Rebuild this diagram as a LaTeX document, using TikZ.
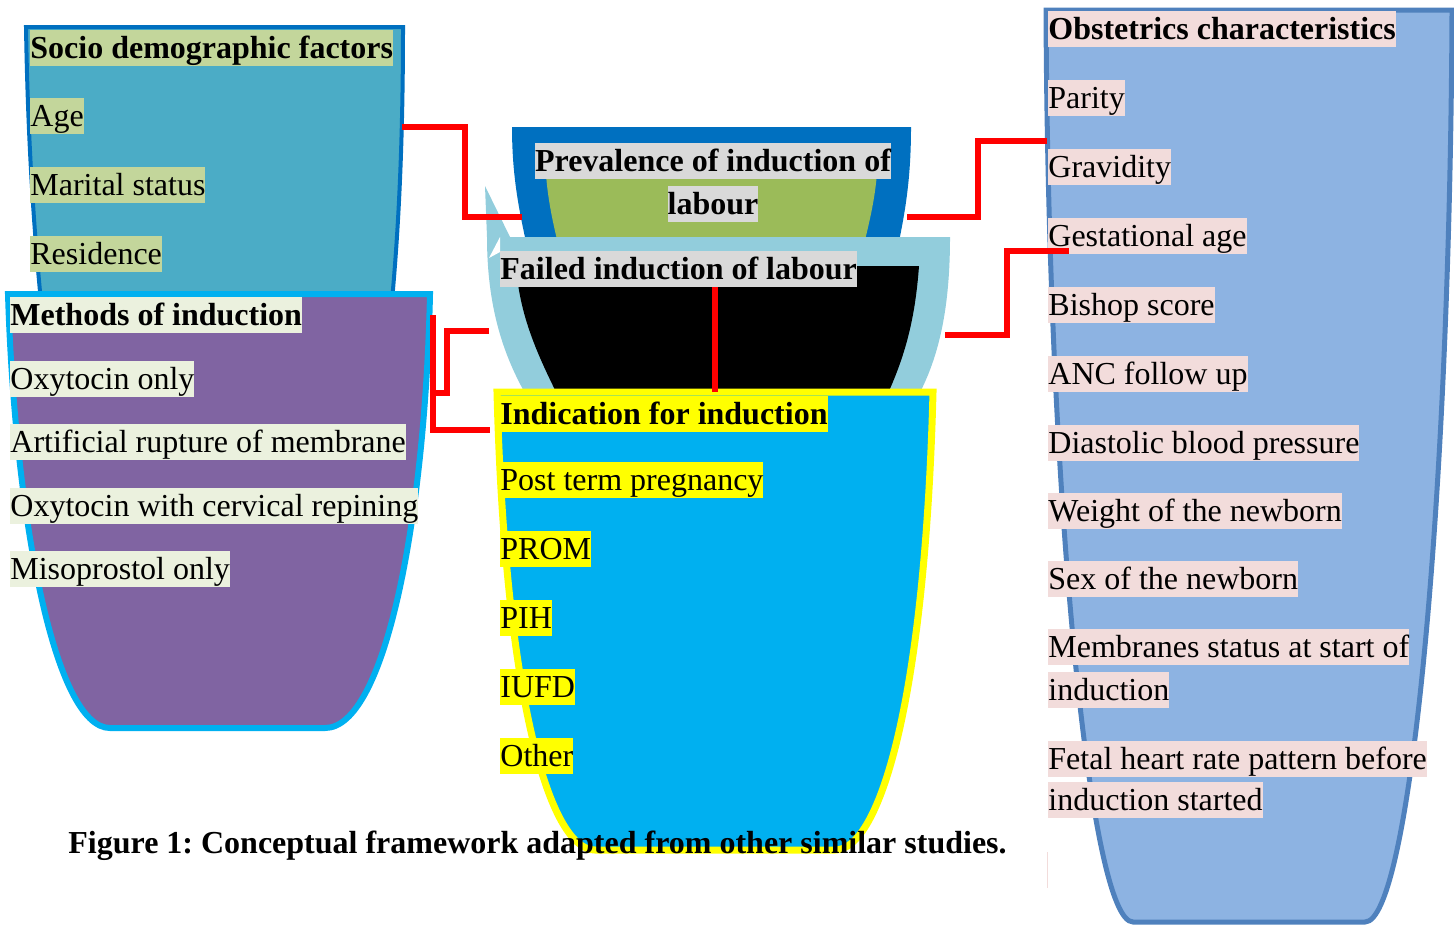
\documentclass[tikz,border=0pt]{standalone}
\usepackage{fontspec}
\setmainfont{Liberation Serif}
\frenchspacing
\definecolor{socioFill}{HTML}{4BACC6}
\definecolor{socioLine}{HTML}{0070C0}
\definecolor{methFill}{HTML}{8064A2}
\definecolor{methLine}{HTML}{00B0F0}
\definecolor{prevOuter}{HTML}{0070C0}
\definecolor{prevInner}{HTML}{9BBB59}
\definecolor{failOuter}{HTML}{92CDDC}
\definecolor{indFill}{HTML}{00B0F0}
\definecolor{indLine}{HTML}{FFFF00}
\definecolor{obsFill}{HTML}{8DB3E2}
\definecolor{obsLine}{HTML}{4F81BD}
\definecolor{hlSocio}{HTML}{C3D69B}
\definecolor{hlMeth}{HTML}{EBF1DE}
\definecolor{hlGray}{HTML}{D9D9D9}
\definecolor{hlYellow}{HTML}{FFFF00}
\definecolor{hlPink}{HTML}{F2DCDB}
\definecolor{linkRed}{HTML}{FF0000}
\tikzset{
  txt/.style={anchor=north west, inner sep=0pt, font=\fontsize{16pt}{19pt}\selectfont,
    text height=14.26pt, text depth=3.46pt},
  btxt/.style={txt, font=\fontsize{16pt}{19pt}\selectfont\bfseries},
  link/.style={draw=linkRed, line width=3pt, line join=miter},
}
\begin{document}
\begin{tikzpicture}[x=0.5pt,y=-0.5pt]
\useasboundingbox (0,0) rectangle (1454,927);
% ---------- cups ----------
% Socio demographic
\path[fill=socioFill, draw=socioLine, line width=2pt]
  (26,27) -- (403,27) .. controls (403,150) and (398,250) .. (388,340)
  -- (45,340) .. controls (35,250) and (28,150) .. (26,27) -- cycle;
% Methods of induction
\path[fill=methFill, draw=methLine, line width=3pt]
  (8,294) -- (430,294) .. controls (425,520) and (385,728) .. (325,728)
  -- (110,728) .. controls (55,728) and (15,520) .. (8,294) -- cycle;
% Prevalence
\path[fill=prevOuter]
  (512,127) -- (911,127) .. controls (911,180) and (905,215) .. (895,260)
  -- (530,260) .. controls (520,215) and (512,180) .. (512,127) -- cycle;
\path[fill=prevInner]
  (545,148) -- (878,148) .. controls (878,190) and (870,220) .. (860,260)
  -- (562,260) .. controls (552,220) and (545,190) .. (545,148) -- cycle;
% Failed induction
\path[fill=failOuter]
  (487,237) -- (950,237) .. controls (950,320) and (935,370) .. (910,410)
  -- (535,410) .. controls (510,370) and (487,320) .. (487,237) -- cycle;
\path[fill=failOuter] (485,186) -- (510,237) -- (487,237) -- cycle;
\path[fill=white] (489,258) -- (500,237) -- (500,252) -- cycle;
\path[fill=black]
  (516,266) -- (919,266) .. controls (915,320) and (905,360) .. (880,410)
  -- (565,410) .. controls (540,360) and (520,320) .. (516,266) -- cycle;
% Indication
\path[fill=indFill, draw=indLine, line width=3.5pt]
  (497,392) -- (933,392) .. controls (925,700) and (880,850) .. (835,850)
  -- (595,850) .. controls (550,850) and (505,700) .. (497,392) -- cycle;
% Obstetrics
\path[fill=obsFill, draw=obsLine, line width=2.5pt]
  (1046,10) -- (1452,10) .. controls (1450,500) and (1410,922) .. (1365,922)
  -- (1133,922) .. controls (1090,922) and (1048,500) .. (1046,10) -- cycle;
\path[fill=hlPink] (1046.5,852) rectangle (1047.5,888);
% ---------- texts ----------
\node[btxt, fill=hlSocio] (s0) at (30,30) {Socio demographic factors};
\node[txt, fill=hlSocio] (s1) at (30,98) {Age};
\node[txt, fill=hlSocio] (s2) at (30,167) {Marital status};
\node[txt, fill=hlSocio] (s3) at (30,236) {Residence};

\node[btxt, fill=hlMeth] (m0) at (10,297) {Methods of induction};
\node[txt, fill=hlMeth] (m1) at (10,361) {Oxytocin only};
\node[txt, fill=hlMeth] (m2) at (10,424) {Artificial rupture of membrane};
\node[txt, fill=hlMeth] (m3) at (10,488) {Oxytocin with cervical repining};
\node[txt, fill=hlMeth] (m4) at (10,551) {Misoprostol only};

\node[btxt, fill=hlGray, anchor=north] (p1) at (713,143) {Prevalence of induction of};
\node[btxt, fill=hlGray, anchor=north] (p2) at (713,186) {labour};
\node[btxt, fill=hlGray] (f0) at (500,251) {Failed induction of labour};

\node[btxt, fill=hlYellow] (i0) at (500,396) {Indication for induction};
\node[txt, fill=hlYellow] (i1) at (500,462) {Post term pregnancy};
\node[txt, fill=hlYellow] (i2) at (500,531) {PROM};
\node[txt, fill=hlYellow] (i3) at (500,600) {PIH};
\node[txt, fill=hlYellow] (i4) at (500,669) {IUFD};
\node[txt, fill=hlYellow] (i5) at (500,738) {Other};

\node[btxt, fill=hlPink] (o0) at (1048,11) {Obstetrics characteristics};
\node[txt, fill=hlPink] (o1) at (1048,80) {Parity};
\node[txt, fill=hlPink] (o2) at (1048,149) {Gravidity};
\node[txt, fill=hlPink] (o3) at (1048,218) {Gestational age};
\node[txt, fill=hlPink] (o4) at (1048,287) {Bishop score};
\node[txt, fill=hlPink] (o5) at (1048,356) {ANC follow up};
\node[txt, fill=hlPink] (o6) at (1048,425) {Diastolic blood pressure};
\node[txt, fill=hlPink] (o7) at (1048,493) {Weight of the newborn};
\node[txt, fill=hlPink] (o8) at (1048,561) {Sex of the newborn};
\node[txt, fill=hlPink] (o9) at (1048,629) {Membranes status at start of};
\node[txt, fill=hlPink] (o9b) at (1048,672) {induction};
\node[txt, fill=hlPink] (o10) at (1048,741) {Fetal heart rate pattern before};
\node[txt, fill=hlPink] (o10b) at (1048,782) {induction started};

\node[btxt] (cap) at (68,825) {Figure 1: Conceptual framework adapted from other similar studies.};
% ---------- connectors ----------
\coordinate (socioR) at (402,127);
\coordinate (prevL) at (522,217);
\coordinate (prevR) at (907,217);
\coordinate (obsL1) at (1047,141);
\coordinate (failR) at (945,335);
\coordinate (obsL2) at (1069,251);
\coordinate (failL) at (489,331);
\coordinate (methR1) at (433,393);
\coordinate (methR2) at (433,315);
\coordinate (indL) at (490,430);
\coordinate (failTop) at (715,287);
\coordinate (indTop) at (715,392);
\draw[link] (socioR) -| (465,217) -- (prevL);
\draw[link] (prevR) -| (978,141) -- (obsL1);
\draw[link] (failR) -| (1007,251) -- (obsL2);
\draw[link] (failL) -| (447,393) -- (methR1);
\draw[link] (methR2) |- (indL);
\draw[link] (failTop) -- (indTop);
\end{tikzpicture}
\end{document}
